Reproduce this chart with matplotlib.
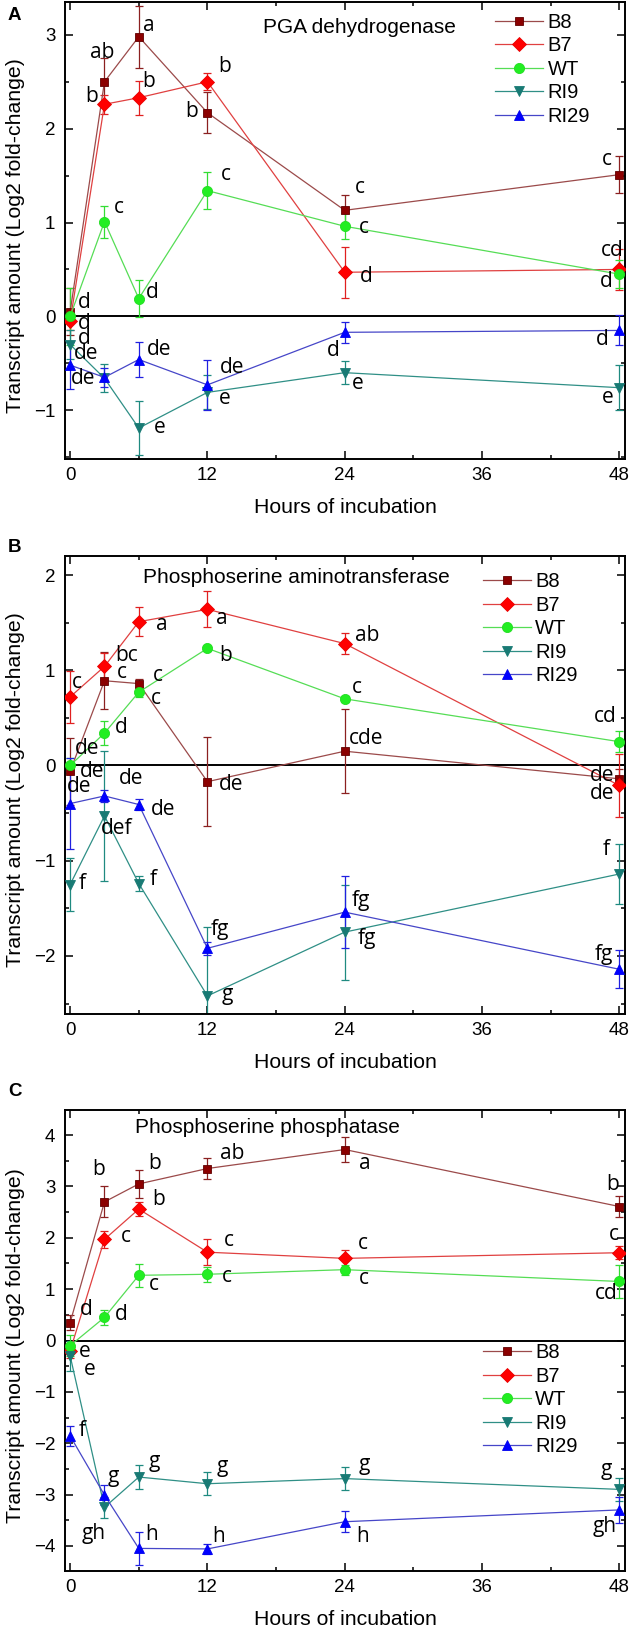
import matplotlib
matplotlib.use('Agg')
import matplotlib.pyplot as plt
from matplotlib.ticker import MultipleLocator

# ---------------- data ----------------
hours = [0, 3, 6, 12, 24, 48]
strains = ['B8', 'B7', 'WT', 'RI9', 'RI29']

pga_mean = {
    'B8':   [0.05, 2.50, 2.98, 2.17, 1.13, 1.51],
    'B7':   [-0.05, 2.26, 2.33, 2.50, 0.47, 0.50],
    'WT':   [0.00, 1.01, 0.19, 1.34, 0.96, 0.45],
    'RI9':  [-0.30, -0.66, -1.19, -0.81, -0.60, -0.76],
    'RI29': [-0.52, -0.65, -0.46, -0.73, -0.17, -0.15],
}
pga_err = {
    'B8':   [0.25, 0.25, 0.33, 0.22, 0.16, 0.20],
    'B7':   [0.10, 0.10, 0.18, 0.09, 0.27, 0.22],
    'WT':   [0.30, 0.17, 0.20, 0.20, 0.14, 0.15],
    'RI9':  [0.15, 0.15, 0.29, 0.18, 0.12, 0.24],
    'RI29': [0.25, 0.10, 0.19, 0.27, 0.11, 0.16],
}
pga_letters = [
    (2.8, 2.81, 'ab'), (6.9, 3.10, 'a'), (1.9, 2.34, 'b'), (6.9, 2.50, 'b'),
    (13.5, 2.66, 'b'), (10.6, 2.18, 'b'), (4.3, 1.16, 'c'), (13.6, 1.51, 'c'),
    (25.3, 1.37, 'c'), (25.7, 0.95, 'c'), (46.9, 1.67, 'c'), (47.4, 0.70, 'cd'),
    (25.9, 0.42, 'd'), (7.2, 0.25, 'd'), (46.9, 0.37, 'd'), (1.2, 0.15, 'd'),
    (1.2, -0.08, 'd'), (1.2, -0.24, 'd'), (1.4, -0.40, 'de'), (1.1, -0.66, 'de'),
    (7.8, -0.35, 'de'), (14.2, -0.54, 'de'), (13.5, -0.88, 'e'), (7.8, -1.18, 'e'),
    (23.0, -0.36, 'd'), (25.1, -0.72, 'e'), (46.5, -0.25, 'd'), (47.0, -0.86, 'e'),
]

psat_mean = {
    'B8':   [-0.06, 0.89, 0.86, -0.17, 0.15, -0.14],
    'B7':   [0.72, 1.04, 1.51, 1.64, 1.28, -0.21],
    'WT':   [0.00, 0.34, 0.77, 1.23, 0.70, 0.25],
    'RI9':  [-1.25, -0.53, -1.24, -2.42, -1.75, -1.14],
    'RI29': [-0.40, -0.32, -0.41, -1.92, -1.54, -2.14],
}
psat_err = {
    'B8':   [0.35, 0.30, 0.05, 0.47, 0.44, 0.10],
    'B7':   [0.27, 0.14, 0.15, 0.19, 0.11, 0.33],
    'WT':   [0.08, 0.13, 0.05, 0.03, 0.03, 0.11],
    'RI9':  [0.28, 0.68, 0.08, 0.72, 0.50, 0.32],
    'RI29': [0.48, 0.06, 0.06, 0.07, 0.38, 0.20],
}
psat_letters = [
    (0.6, 0.87, 'c'), (4.9, 1.15, 'bc'), (4.5, 0.98, 'c'), (8.0, 1.48, 'a'),
    (7.7, 0.95, 'c'), (7.5, 0.70, 'c'), (13.3, 1.54, 'a'), (13.6, 1.15, 'b'),
    (4.5, 0.40, 'd'), (1.5, 0.18, 'de'), (1.9, -0.06, 'de'), (0.8, -0.22, 'de'),
    (5.3, -0.14, 'de'), (8.1, -0.46, 'de'), (14.1, -0.20, 'de'), (4.1, -0.66, 'def'),
    (26.0, 1.37, 'ab'), (25.1, 0.82, 'c'), (25.9, 0.28, 'cde'), (46.8, 0.51, 'cd'),
    (46.5, -0.10, 'de'), (46.5, -0.29, 'de'), (1.1, -1.24, 'f'), (7.3, -1.20, 'f'),
    (13.1, -1.72, 'fg'), (13.7, -2.41, 'g'), (25.4, -1.42, 'fg'), (25.9, -1.82, 'fg'),
    (46.9, -0.88, 'f'), (46.7, -1.98, 'fg'),
]

psp_mean = {
    'B8':   [0.35, 2.70, 3.05, 3.35, 3.72, 2.61],
    'B7':   [-0.20, 1.97, 2.56, 1.72, 1.60, 1.71],
    'WT':   [-0.10, 0.45, 1.27, 1.29, 1.38, 1.15],
    'RI9':  [-0.30, -3.25, -2.66, -2.79, -2.69, -2.90],
    'RI29': [-1.86, -3.01, -4.05, -4.06, -3.53, -3.30],
}
psp_err = {
    'B8':   [0.15, 0.30, 0.27, 0.21, 0.24, 0.20],
    'B7':   [0.15, 0.17, 0.13, 0.25, 0.17, 0.13],
    'WT':   [0.20, 0.14, 0.22, 0.15, 0.10, 0.33],
    'RI9':  [0.30, 0.20, 0.23, 0.22, 0.22, 0.22],
    'RI29': [0.20, 0.20, 0.32, 0.10, 0.21, 0.25],
}
psp_letters = [
    (2.5, 3.33, 'b'), (7.4, 3.44, 'b'), (7.7, 2.74, 'b'), (14.2, 3.64, 'ab'),
    (4.9, 2.02, 'c'), (13.9, 1.95, 'c'), (7.3, 1.09, 'c'), (13.7, 1.25, 'c'),
    (1.4, 0.60, 'd'), (4.5, 0.51, 'd'), (1.3, -0.21, 'e'), (1.7, -0.56, 'e'),
    (25.8, 3.44, 'a'), (47.4, 3.03, 'b'), (25.6, 1.89, 'c'), (25.7, 1.21, 'c'),
    (47.5, 2.06, 'c'), (46.9, 0.91, 'cd'), (1.1, -1.75, 'f'), (3.8, -2.65, 'g'),
    (2.1, -3.76, 'gh'), (7.4, -2.35, 'g'), (7.1, -3.77, 'h'), (13.3, -2.45, 'g'),
    (13.0, -3.81, 'h'), (25.7, -2.41, 'g'), (25.6, -3.81, 'h'), (46.9, -2.51, 'g'),
    (46.7, -3.62, 'gh'),
]

panel_titles = ['PGA dehydrogenase', 'Phosphoserine aminotransferase',
                'Phosphoserine phosphatase']
panel_tags = ['A', 'B', 'C']
x_ticks = [0, 12, 24, 36, 48]

# ---------------- style ----------------
plt.rcParams['font.family'] = ['Liberation Sans', 'DejaVu Sans']
styles = {
    'B8':   dict(marker='s', mfc='#8b0000', mec='#600000', color='#9b4a4a', ms=6.3),
    'B7':   dict(marker='D', mfc='#ff0000', mec='#e80000', color='#e04040', ms=7.3),
    'WT':   dict(marker='o', mfc='#22ee22', mec='#22dd22', color='#55dd55', ms=7.3),
    'RI9':  dict(marker='v', mfc='#187a74', mec='#187a74', color='#2f8f86', ms=7.8),
    'RI29': dict(marker='^', mfc='#0000ff', mec='#0000ee', color='#4646c8', ms=7.8),
}
ecolors = {'B8': '#8b2020', 'B7': '#e02020', 'WT': '#33dd33',
           'RI9': '#1f8a80', 'RI29': '#2020e0'}

W, H = 636, 1629
fig = plt.figure(figsize=(W / 100, H / 100), dpi=100)

# axes boxes in pixels: (left, top, right, bottom)
boxes = [(65, 2, 625, 459), (65, 556, 625, 1014), (65, 1110, 625, 1571)]
ylims = [(-1.52, 3.35), (-2.61, 2.2), (-4.49, 4.49)]
title_pos = [(0.354, 0.945), (0.139, 0.952), (0.125, 0.961)]
legend_pos = [(0.768, 0.976), (0.746, 0.964), (0.746, 0.494)]
tag_y = [16, 548, 1092]

panels = [(pga_mean, pga_err, pga_letters),
          (psat_mean, psat_err, psat_letters),
          (psp_mean, psp_err, psp_letters)]

for i, (means, errs, letters) in enumerate(panels):
    l, t, r, b = boxes[i]
    ax = fig.add_axes([l / W, 1 - b / H, (r - l) / W, (b - t) / H])
    ax.axhline(0, color='black', lw=1.4, zorder=1)
    for s in strains:
        st = styles[s]
        ax.errorbar(hours, means[s], yerr=errs[s], fmt='none', ecolor=ecolors[s],
                    elinewidth=0.9, capsize=3, capthick=0.9, zorder=2)
        ax.plot(hours, means[s], marker=st['marker'], ms=st['ms'],
                markerfacecolor=st['mfc'], markeredgecolor=st['mec'],
                markeredgewidth=0.6, color=st['color'], lw=0.9, label=s, zorder=3)
    for (x, y, txt) in letters:
        ax.text(x, y, txt, fontsize=15, family=['Open Sans', 'DejaVu Sans'],
                ha='center', va='center', zorder=4, clip_on=False)
    ax.set_xlim(-0.45, 48.5)
    ax.set_ylim(*ylims[i])
    ax.set_xticks(x_ticks)
    ax.xaxis.set_minor_locator(MultipleLocator(6))
    ax.yaxis.set_major_locator(MultipleLocator(1))
    ax.yaxis.set_minor_locator(MultipleLocator(0.5))
    ax.tick_params(which='both', direction='in', top=True, right=True,
                   labelsize=13.5, width=1.1)
    ax.tick_params(which='major', length=5.5)
    ax.tick_params(which='minor', length=3)
    ax.tick_params(axis='y', pad=7)
    ax.tick_params(axis='x', pad=6)
    for sp in ax.spines.values():
        sp.set_linewidth(1.4)
    ax.set_xlabel('Hours of incubation', fontsize=15.3, labelpad=10)
    ax.set_ylabel('Transcript amount (Log2 fold-change)', fontsize=15.3)
    ax.yaxis.set_label_coords(-0.071, 0.49)
    ax.text(title_pos[i][0], title_pos[i][1], panel_titles[i], transform=ax.transAxes,
            fontsize=15, ha='left', va='center')
    ax.legend(loc='upper left', bbox_to_anchor=legend_pos[i], frameon=False,
              fontsize=14.5, borderpad=0, borderaxespad=0, handlelength=2.4,
              handletextpad=0.2, labelspacing=0.22, numpoints=1)
    fig.text(8 / W, 1 - tag_y[i] / H, panel_tags[i], fontsize=13.5, fontweight='bold',
             ha='left', va='center')

fig.savefig('out.png', dpi=100)
